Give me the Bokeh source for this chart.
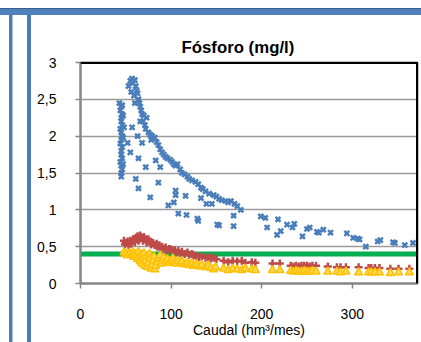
from bokeh.plotting import figure
from bokeh.models import Span, FixedTicker
from bokeh.embed import file_html
from bokeh.resources import INLINE

# ---------------- data ----------------
title_text = "Fósforo (mg/l)"
x_label = "Caudal (hm³/mes)"
x_ticks = [0, 100, 200, 300]
y_ticks = [0, 0.5, 1, 1.5, 2, 2.5, 3]
y_tick_labels = ["0", "0,5", "1", "1,5", "2", "2,5", "3"]
x_max = 372
y_max = 3
threshold = 0.4

blue_x = [45, 45, 46, 45, 44, 46, 45, 45, 46, 44, 45, 46, 45, 44, 46, 45, 45, 46, 44, 45, 43, 46, 47, 48, 47, 47,
          53, 55, 57, 58, 60, 61, 62, 56, 59, 63, 64, 65, 66, 60, 67, 68, 70, 69, 71, 72, 66, 73, 75, 77, 79, 78,
          82, 84, 86, 88, 90, 92, 94, 96, 99, 101, 103, 105, 107, 110, 112, 115, 118, 120, 123, 127, 130, 133,
          135, 138, 142, 147, 150, 153, 156, 160, 163, 166, 170, 173, 177,
          57, 52, 55, 63, 68, 64, 61, 64, 72, 77, 83, 86, 88, 97, 103, 105, 105, 108, 116, 117, 129, 133, 139,
          145, 153, 169, 169, 151, 130,
          199, 204, 206, 218, 217, 221, 228, 234, 236, 245, 250, 253, 261, 263, 268, 276, 294, 301, 306, 308,
          315, 328, 331, 345, 347, 358, 367]
blue_y = [1.45, 1.50, 1.55, 1.60, 1.65, 1.70, 1.75, 1.80, 1.85, 1.90, 1.95, 2.00, 2.05, 2.10, 2.15, 2.20, 2.25,
          2.30, 2.35, 2.40, 2.45, 2.42, 2.28, 2.12, 1.98, 1.62,
          2.68, 2.75, 2.78, 2.72, 2.76, 2.68, 2.62, 2.60, 2.55, 2.58, 2.50, 2.45, 2.40, 2.45, 2.35, 2.30, 2.28,
          2.20, 2.15, 2.10, 2.20, 2.25, 2.05, 2.02, 2.00, 1.95,
          1.98, 1.92, 1.88, 1.82, 1.78, 1.75, 1.72, 1.70, 1.68, 1.65, 1.62, 1.60, 1.62, 1.55, 1.50, 1.48, 1.45,
          1.42, 1.40, 1.38, 1.35, 1.30, 1.28, 1.25, 1.22, 1.20, 1.18, 1.15, 1.13, 1.12, 1.10, 1.12, 1.08, 1.05,
          1.00,
          2.12, 1.91, 1.78, 2.00, 1.91, 1.70, 1.42, 1.29, 1.58, 1.17, 1.67, 1.37, 1.58, 1.06, 1.10, 1.26, 1.20,
          0.95, 1.19, 0.93, 0.88, 1.16, 1.08, 1.08, 0.79, 0.92, 0.78, 0.80, 0.85,
          0.91, 0.89, 0.76, 0.87, 0.66, 0.71, 0.80, 0.76, 0.81, 0.64, 0.74, 0.76, 0.70, 0.69, 0.73, 0.69, 0.68,
          0.62, 0.61, 0.60, 0.50, 0.57, 0.59, 0.56, 0.55, 0.52, 0.55]

red_x = [48, 49, 50, 52, 53, 55, 56, 58, 60, 61, 63, 64, 65, 66, 68, 69, 70, 72, 73, 75, 77, 78, 80, 82, 84, 85,
         87, 88, 90, 92, 94, 96, 98, 100, 102, 104, 106, 108, 110, 112, 115, 118, 120, 123, 125, 128, 131, 134,
         138, 141, 144, 147, 150, 78, 82, 86, 70,
         158, 163, 168, 173, 178, 182, 189, 193, 212, 220, 232, 235, 238, 241, 244, 247, 250, 253, 256, 260,
         273, 283, 287, 293, 307, 318, 321, 325, 330, 342, 351, 363]
red_y = [0.58, 0.53, 0.55, 0.57, 0.52, 0.58, 0.54, 0.60, 0.56, 0.62, 0.64, 0.58, 0.60, 0.65, 0.62, 0.58, 0.63,
         0.60, 0.56, 0.60, 0.57, 0.53, 0.55, 0.52, 0.54, 0.50, 0.52, 0.48, 0.50, 0.47, 0.49, 0.45, 0.47, 0.46,
         0.44, 0.45, 0.42, 0.44, 0.41, 0.43, 0.40, 0.42, 0.39, 0.40, 0.38, 0.37, 0.36, 0.37, 0.35, 0.36, 0.34,
         0.35, 0.33, 0.34, 0.32, 0.35, 0.38,
         0.31, 0.29, 0.31, 0.30, 0.31, 0.28, 0.29, 0.28, 0.27, 0.27, 0.24, 0.23, 0.24, 0.23, 0.24, 0.24, 0.24,
         0.23, 0.24, 0.24, 0.23, 0.22, 0.22, 0.22, 0.22, 0.21, 0.21, 0.21, 0.21, 0.20, 0.20, 0.20]

yellow_x = [48, 50, 52, 54, 56, 58, 59, 60, 62, 63, 64, 65, 66, 67, 68, 69, 70, 71, 72, 73, 74, 75, 76, 77, 78,
            79, 80, 81, 82, 83, 85, 86, 88, 89, 90, 92, 94, 96, 98, 100, 102, 104, 106, 108, 110, 112, 115, 118,
            120, 123, 125, 128, 131, 134, 138, 141, 144, 147, 149,
            158, 163, 168, 173, 178, 182, 189, 193, 212, 220, 232, 235, 238, 241, 244, 247, 250, 253, 256, 260,
            273, 283, 287, 293, 307, 318, 321, 325, 330, 342, 351, 363]
yellow_y = [0.42, 0.40, 0.38, 0.41, 0.39, 0.42, 0.36, 0.40, 0.38, 0.33, 0.43, 0.36, 0.30, 0.39, 0.27, 0.34, 0.41,
            0.24, 0.31, 0.37, 0.22, 0.28, 0.40, 0.34, 0.20, 0.25, 0.31, 0.37, 0.19, 0.24, 0.29, 0.34, 0.38, 0.27,
            0.32, 0.35, 0.30, 0.33, 0.28, 0.31, 0.34, 0.29, 0.27, 0.31, 0.28, 0.30, 0.26, 0.28, 0.25, 0.27, 0.24,
            0.26, 0.23, 0.25, 0.22, 0.24, 0.21, 0.19, 0.22,
            0.20, 0.18, 0.20, 0.19, 0.18, 0.20, 0.19, 0.18, 0.18, 0.18, 0.17, 0.16, 0.17, 0.16, 0.16, 0.17, 0.16,
            0.16, 0.17, 0.16, 0.16, 0.16, 0.15, 0.16, 0.15, 0.15, 0.15, 0.15, 0.15, 0.14, 0.15, 0.15]

# ---------------- figure ----------------
FONT = "Liberation Sans"
p = figure(width=421, height=342, output_backend="svg", toolbar_location=None,
           x_range=(0, x_max), y_range=(0, y_max),
           min_border_left=80, min_border_right=4, min_border_top=62, min_border_bottom=59)
p.background_fill_color = "white"
p.border_fill_color = None
p.outline_line_color = "black"
p.outline_line_width = 1.5

# blue window borders drawn as CSS background behind the transparent canvas border
p.styles = {
    "background-color": "white",
    "background-image": ("linear-gradient(#385D8A,#385D8A), linear-gradient(#4F81BD,#4F81BD), "
                         "linear-gradient(#4A7EBB,#4A7EBB), linear-gradient(#4A7EBB,#4A7EBB)"),
    "background-size": "100% 1px, 100% 7px, 3.5px 100%, 4px 100%",
    "background-position": "0 8px, 0 8px, 9px 15px, 27px 15px",
    "background-repeat": "no-repeat",
}

p.title.text = title_text
p.title.align = "left"
p.title.offset = 101
p.title.standoff = 12
p.title.text_font = FONT
p.title.text_font_size = "16.8px"
p.title.text_font_style = "bold"
p.title.text_color = "black"

p.xgrid.visible = False
p.ygrid.ticker = FixedTicker(ticks=y_ticks[1:-1])
p.ygrid.grid_line_color = "#9a9a9a"
p.ygrid.grid_line_width = 1.6

for ax in (p.xaxis[0], p.yaxis[0]):
    ax.axis_line_color = "#868686"
    ax.axis_line_width = 2
    ax.major_tick_line_color = "#868686"
    ax.major_tick_line_width = 1.5
    ax.major_tick_out = 5
    ax.major_tick_in = 0
    ax.minor_tick_line_color = None
    ax.major_label_text_font = FONT
    ax.major_label_text_font_size = "14px"
    ax.major_label_text_color = "black"

p.xaxis.ticker = FixedTicker(ticks=x_ticks)
p.yaxis.ticker = FixedTicker(ticks=y_ticks)
p.yaxis.major_label_overrides = {t: s for t, s in zip(y_ticks, y_tick_labels)}
p.xaxis.major_label_standoff = 20
p.yaxis.major_label_standoff = 19
p.xaxis.axis_label = x_label
p.xaxis.axis_label_text_font = FONT
p.xaxis.axis_label_text_font_size = "14px"
p.xaxis.axis_label_text_font_style = "normal"
p.xaxis.axis_label_text_color = "black"
p.xaxis.axis_label_standoff = 0

p.add_layout(Span(location=threshold, dimension="width", line_color="#00B050", line_width=5, level="underlay"))
# black plot-area border on top and right
p.add_layout(Span(location=y_max, dimension="width", line_color="black", line_width=3))
p.add_layout(Span(location=x_max, dimension="height", line_color="black", line_width=3))

p.scatter(blue_x, blue_y, marker="x", size=7, line_color="#4A7EBB", line_width=2.5)
p.scatter(red_x, red_y, marker="cross", size=8, line_color="#BE4B48", line_width=2.5)
p.scatter(yellow_x, yellow_y, marker="triangle", size=8, fill_color="#FFD85A", line_color="#FFC000",
          line_width=1.5)

open("out.html", "w").write(file_html(p, INLINE))
